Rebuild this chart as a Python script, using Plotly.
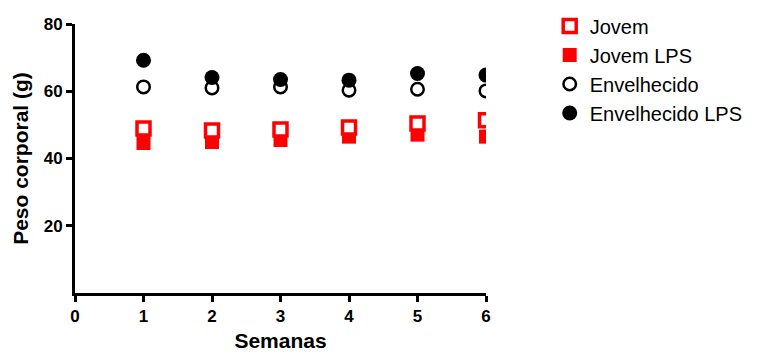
import plotly.graph_objects as go

weeks = [1, 2, 3, 4, 5, 6]
jovem = [48.9, 48.3, 48.6, 49.2, 50.4, 51.4]
jovem_lps = [44.6, 44.9, 45.5, 46.5, 47.1, 46.5]
envelhecido = [61.3, 61.0, 61.3, 60.3, 60.6, 60.1]
envelhecido_lps = [69.2, 64.1, 63.5, 63.3, 65.3, 64.8]
x_ticks = [0, 1, 2, 3, 4, 5, 6]
y_ticks = [20, 40, 60, 80]

RED = "#ff0000"
FONT = "Arial, Liberation Sans, sans-serif"

fig = go.Figure()
fig.add_trace(go.Scatter(x=weeks, y=jovem_lps, mode="markers", name="Jovem LPS", legendrank=2,
                         marker=dict(symbol="square", size=14, color=RED, line=dict(width=0))))
fig.add_trace(go.Scatter(x=weeks, y=jovem, mode="markers", name="Jovem", legendrank=1,
                         marker=dict(symbol="square", size=13, color="white", line=dict(width=3.5, color=RED))))
fig.add_trace(go.Scatter(x=weeks, y=envelhecido, mode="markers", name="Envelhecido", legendrank=3,
                         marker=dict(symbol="circle", size=12.5, color="white", line=dict(width=2.5, color="black"))))
fig.add_trace(go.Scatter(x=weeks, y=envelhecido_lps, mode="markers", name="Envelhecido LPS", legendrank=4,
                         marker=dict(symbol="circle", size=15, color="black", line=dict(width=0))))

fig.update_layout(
    width=758, height=357,
    margin=dict(l=75, r=272, t=24, b=64, autoexpand=False),
    plot_bgcolor="white", paper_bgcolor="white",
    font=dict(family=FONT, color="black"),
    legend=dict(x=1.155, y=1.065, xanchor="left", yanchor="top",
                font=dict(size=20, family=FONT), bgcolor="rgba(0,0,0,0)",
                tracegroupgap=0, itemwidth=30),
    showlegend=True,
)
fig.update_xaxes(range=[0, 6], tickvals=x_ticks, showgrid=False, zeroline=False,
                 showline=True, linewidth=3, linecolor="black", automargin=False,
                 ticks="outside", ticklen=6, tickwidth=3, tickcolor="black",
                 tickfont=dict(size=17, family=FONT, weight="bold"),
                 title=dict(text="<b>Semanas</b>", font=dict(size=21, family=FONT), standoff=8))
fig.update_yaxes(range=[0, 80], tickvals=y_ticks, showgrid=False, zeroline=False,
                 showline=True, linewidth=3, linecolor="black", automargin=False,
                 ticks="outside", ticklen=6, tickwidth=3, tickcolor="black",
                 tickfont=dict(size=17, family=FONT, weight="bold"),
                 title=dict(text="<b>Peso corporal (g)</b>", font=dict(size=21, family=FONT), standoff=10))

fig.write_html("out.html", config={"displayModeBar": False},
               post_script="document.body.style.margin='0';document.body.style.overflow='hidden';")
